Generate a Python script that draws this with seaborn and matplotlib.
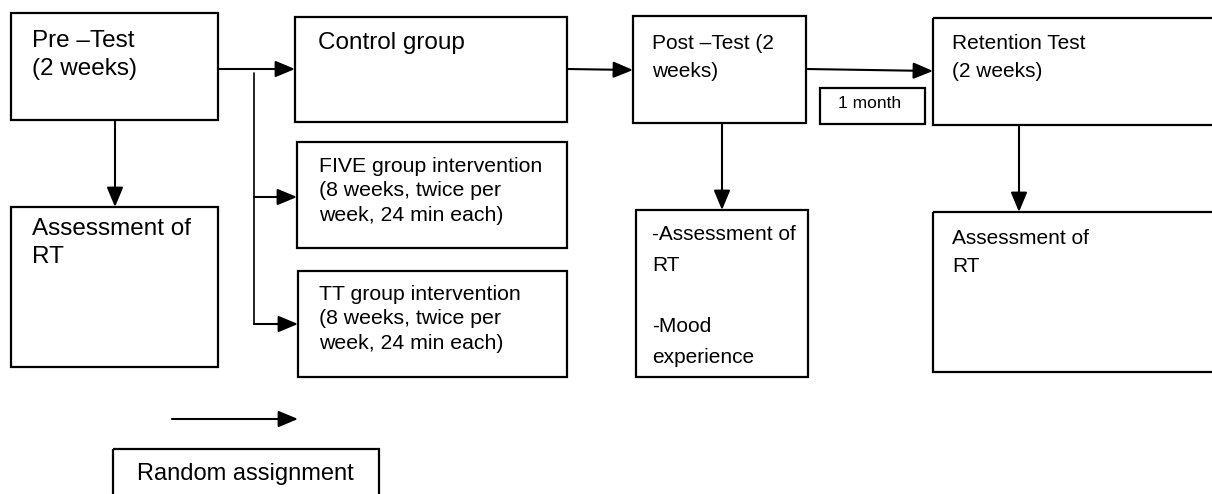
import matplotlib
matplotlib.use('Agg')
import matplotlib.pyplot as plt
from matplotlib.patches import Rectangle
import seaborn as sns

sns.set_theme(style='white')
plt.rcParams['font.family'] = ['Liberation Sans', 'DejaVu Sans']

# box texts
box_names = ['pre', 'pre_rt', 'control', 'five', 'tt', 'post', 'post_rt',
             'month', 'ret', 'ret_rt', 'legend']
box_texts = ['Pre \u2013Test\n(2 weeks)',
             'Assessment of\nRT',
             'Control group',
             'FIVE group intervention\n(8 weeks, twice per\nweek, 24 min each)',
             'TT group intervention\n(8 weeks, twice per\nweek, 24 min each)',
             'Post \u2013Test (2\nweeks)',
             '-Assessment of\nRT\n\n-Mood\nexperience',
             '1 month',
             'Retention Test\n(2 weeks)',
             'Assessment of\nRT',
             'Random assignment']

# layout (pixels: x0, y0, x1, y1)
box_xy = [(11, 13, 218, 120), (11, 207, 218, 367), (295, 17, 567, 122),
          (297, 142, 567, 248), (298, 271, 567, 377), (633, 16, 806, 123),
          (636, 210, 808, 377), (820, 88, 925, 124), (933, 18, 1215, 125),
          (933, 212, 1215, 372), (113, 449, 379, 500)]
text_xy = [(32, 30), (32, 218), (318, 32), (319, 157), (319, 285), (652, 34),
           (652, 225), (838, 96), (952, 34), (952, 229), (137, 463)]
text_size = [17.5, 17.5, 17.5, 15.3, 15.3, 15, 15, 12.5, 15, 15, 17]
text_spacing = [1.35, 1.35, 1.35, 1.35, 1.35, 1.58, 1.78, 1.2, 1.58, 1.58, 1.2]

arrows = [((218, 69), (295, 69)), ((254, 197), (297, 197)), ((254, 324), (298, 324)),
          ((567, 69), (633, 70)), ((806, 69), (933, 71)), ((115, 120), (115, 207)),
          ((722, 123), (722, 210)), ((1019, 125), (1019, 212)), ((172, 419), (298, 419))]

fig = plt.figure(figsize=(12.12, 4.94), dpi=100)
ax = fig.add_axes([0, 0, 1, 1])
ax.set_xlim(0, 1212)
ax.set_ylim(494, 0)
ax.axis('off')

for name, txt, (x0, y0, x1, y1), (tx, ty), fs, ls in zip(
        box_names, box_texts, box_xy, text_xy, text_size, text_spacing):
    rect = Rectangle((x0, y0), x1 - x0, y1 - y0, fill=False, ec='black', lw=1.6)
    ax.add_patch(rect)
    t = ax.text(tx, ty, txt, fontsize=fs, va='top', ha='left',
                linespacing=ls, color='black')
    if name == 'post_rt':
        # last line is cut off by the box in the original
        clip = Rectangle((x0, y0), x1 - x0, 365 - y0, transform=ax.transData)
        t.set_clip_path(clip)

# branch line for random assignment
ax.plot([254, 254], [73, 324], color='black', lw=1.2)

for (sx, sy), (ex, ey) in arrows:
    ax.annotate('', xy=(ex, ey), xytext=(sx, sy),
                arrowprops=dict(arrowstyle='-|>,head_length=1.2,head_width=0.5',
                                color='black', lw=1.5, shrinkA=0, shrinkB=0,
                                mutation_scale=10))

plt.savefig('out.png', dpi=100)
